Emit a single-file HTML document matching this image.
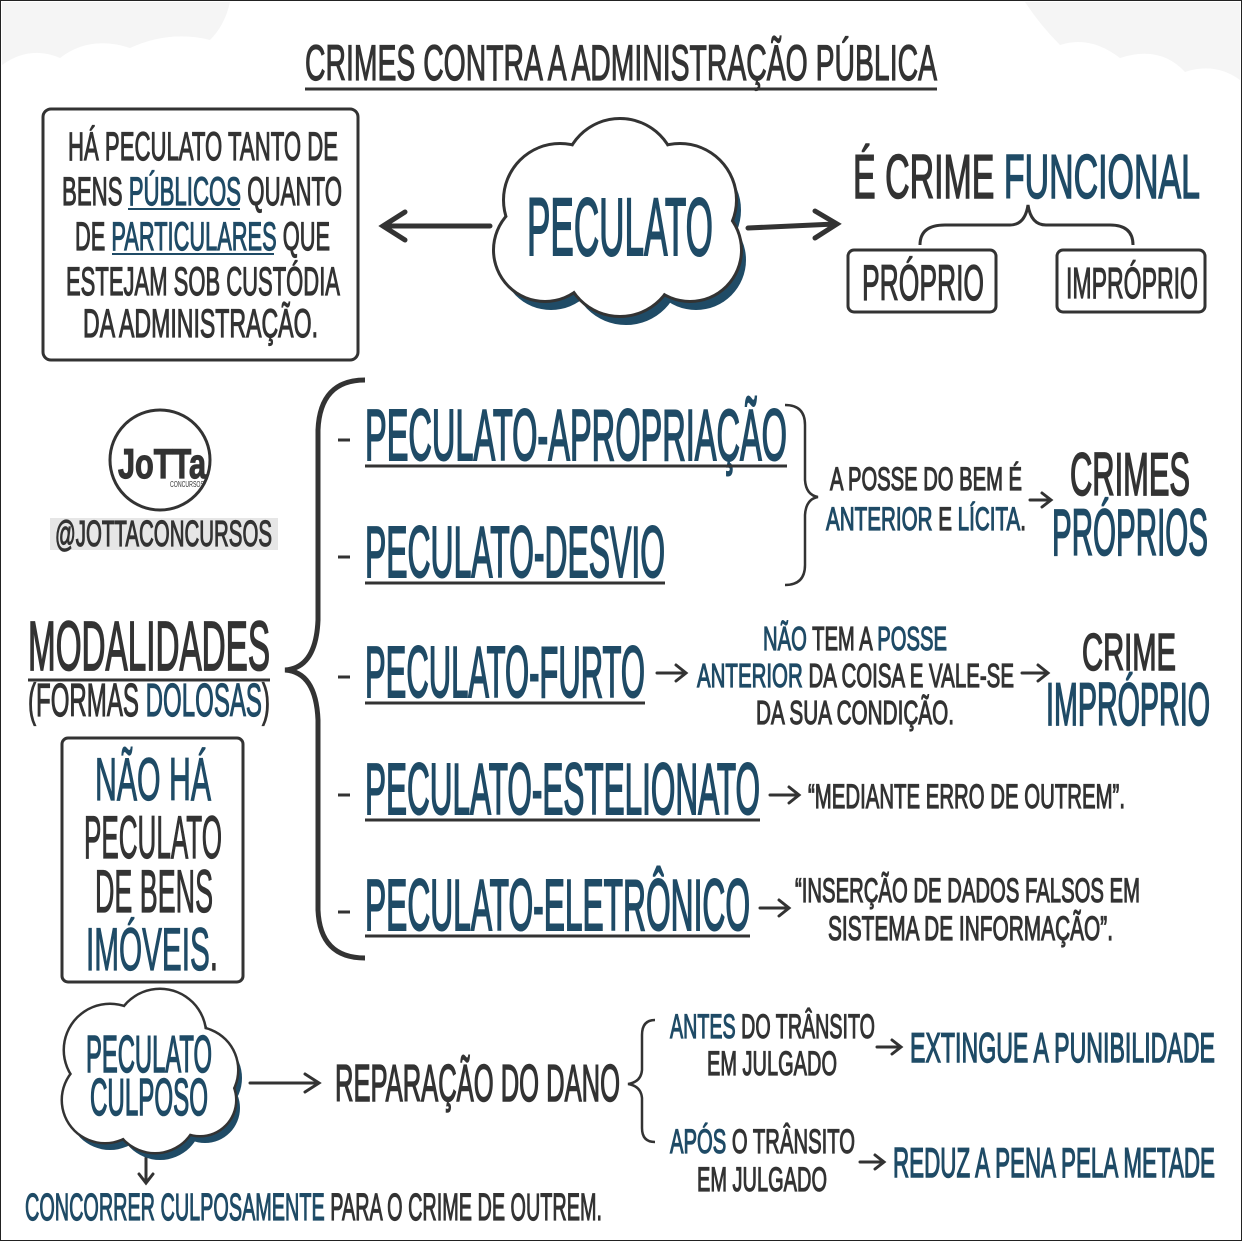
<!DOCTYPE html>
<html><head><meta charset="utf-8"><style>
html,body{margin:0;padding:0;background:#fff;}
svg{display:block;}
text{font-family:"Liberation Sans Narrow","Liberation Sans",sans-serif;fill:#333;stroke:#333;stroke-width:1.2;}
.b{fill:#1f4b66;stroke:#1f4b66;}
</style></head><body>
<svg width="1242" height="1241" viewBox="0 0 1242 1241" xmlns="http://www.w3.org/2000/svg">
<rect x="0.5" y="0.5" width="1241" height="1240" fill="#fff" stroke="#222" stroke-width="1"/>
<!-- faint corner clouds -->
<path d="M2 65 Q30 45 60 58 Q90 35 130 48 Q170 30 210 40 Q225 25 230 2 L2 2Z" fill="#f5f5f5"/>
<path d="M1240 80 Q1215 62 1185 72 Q1160 45 1120 58 Q1090 35 1060 45 Q1040 25 1025 2 L1240 2Z" fill="#f5f5f5"/>

<!-- Title -->
<text x="305" y="80" font-size="50" textLength="632" lengthAdjust="spacingAndGlyphs">CRIMES CONTRA A ADMINISTRAÇÃO PÚBLICA</text>
<line x1="305" y1="89" x2="937" y2="89" stroke="#333" stroke-width="3"/>

<!-- Left box -->
<rect x="43" y="109" width="315" height="251" rx="8" fill="none" stroke="#333" stroke-width="3"/>
<g font-size="40">
<text x="68" y="160" textLength="270" lengthAdjust="spacingAndGlyphs">HÁ PECULATO TANTO DE</text>
<text x="62" y="205" textLength="280" lengthAdjust="spacingAndGlyphs">BENS <tspan class="b">PÚBLICOS</tspan> QUANTO</text>
<text x="75" y="250" textLength="255" lengthAdjust="spacingAndGlyphs">DE <tspan class="b">PARTICULARES</tspan> QUE</text>
<text x="66" y="295" textLength="274" lengthAdjust="spacingAndGlyphs">ESTEJAM SOB CUSTÓDIA</text>
<text x="83" y="337" textLength="235" lengthAdjust="spacingAndGlyphs">DA ADMINISTRAÇÃO.</text>
</g>
<line x1="128" y1="209" x2="240" y2="209" stroke="#1f4b66" stroke-width="2"/>
<line x1="112" y1="254" x2="274" y2="254" stroke="#1f4b66" stroke-width="2"/>

<!-- Main cloud -->
<g transform="translate(6,10)" fill="#1f4b66">
<circle cx="560" cy="200" r="55"/><circle cx="620" cy="175" r="55"/><circle cx="680" cy="200" r="55"/>
<circle cx="545" cy="250" r="50"/><circle cx="620" cy="260" r="55"/><circle cx="690" cy="250" r="50"/>
</g>
<g fill="none" stroke="#333" stroke-width="6">
<circle cx="560" cy="200" r="55"/><circle cx="620" cy="175" r="55"/><circle cx="680" cy="200" r="55"/>
<circle cx="545" cy="250" r="50"/><circle cx="620" cy="260" r="55"/><circle cx="690" cy="250" r="50"/>
</g>
<g fill="#fff">
<circle cx="560" cy="200" r="55"/><circle cx="620" cy="175" r="55"/><circle cx="680" cy="200" r="55"/>
<circle cx="545" cy="250" r="50"/><circle cx="620" cy="260" r="55"/><circle cx="690" cy="250" r="50"/>
<rect x="560" y="190" width="120" height="80"/>
</g>
<text class="b" x="527" y="255" font-size="82" textLength="186" lengthAdjust="spacingAndGlyphs" style="stroke-width:2">PECULATO</text>

<!-- arrows -->
<g stroke="#333" stroke-width="5" fill="none" stroke-linecap="round">
<path d="M490 226 L385 226 M405 212 L383 226 L405 240"/>
<path d="M748 228 L835 224 M815 211 L837 224 L815 238"/>
</g>

<!-- Crime funcional -->
<text x="853" y="198" font-size="62" textLength="347" lengthAdjust="spacingAndGlyphs" style="stroke-width:1.6">É CRIME <tspan class="b">FUNCIONAL</tspan></text>
<path d="M920 245 Q920 225 945 225 L1010 225 Q1025 225 1028 205 Q1031 225 1046 225 L1110 225 Q1133 225 1133 245" fill="none" stroke="#333" stroke-width="3"/>
<rect x="848" y="250" width="148" height="62" rx="6" fill="none" stroke="#333" stroke-width="3"/>
<rect x="1057" y="250" width="148" height="62" rx="6" fill="none" stroke="#333" stroke-width="3"/>
<text x="862" y="300" font-size="50" textLength="122" lengthAdjust="spacingAndGlyphs">PRÓPRIO</text>
<text x="1066" y="298" font-size="44" textLength="132" lengthAdjust="spacingAndGlyphs">IMPRÓPRIO</text>

<!-- Logo -->
<circle cx="160" cy="460" r="50" fill="#fff" stroke="#333" stroke-width="3"/>
<text x="118" y="478" font-size="42" font-weight="bold" textLength="88" lengthAdjust="spacingAndGlyphs">JoTTa</text>
<text x="170" y="487" font-size="8" textLength="34" lengthAdjust="spacingAndGlyphs" style="stroke-width:0">CONCURSOS</text>
<rect x="50" y="518" width="228" height="32" fill="#e6e6e6"/>
<text x="55" y="546" font-size="36" textLength="217" lengthAdjust="spacingAndGlyphs">@JOTTACONCURSOS</text>

<!-- Big brace -->
<path d="M365 380 Q320 380 318 430 L318 620 Q316 668 285 670 Q316 672 318 720 L318 910 Q320 958 365 958" fill="none" stroke="#333" stroke-width="5"/>

<!-- Modalidades -->
<text x="28" y="670" font-size="70" textLength="242" lengthAdjust="spacingAndGlyphs" style="stroke-width:1.8">MODALIDADES</text>
<line x1="28" y1="680" x2="270" y2="680" stroke="#333" stroke-width="3"/>
<text x="28" y="716" font-size="46" textLength="242" lengthAdjust="spacingAndGlyphs">(FORMAS <tspan class="b">DOLOSAS</tspan>)</text>

<rect x="62" y="738" width="181" height="244" rx="6" fill="none" stroke="#333" stroke-width="3"/>
<g font-size="60" style="stroke-width:1.6">
<text class="b" x="95" y="800" textLength="116" lengthAdjust="spacingAndGlyphs">NÃO HÁ</text>
<text x="84" y="858" textLength="138" lengthAdjust="spacingAndGlyphs">PECULATO</text>
<text x="95" y="912" textLength="118" lengthAdjust="spacingAndGlyphs">DE BENS</text>
<text x="86" y="970" textLength="132" lengthAdjust="spacingAndGlyphs"><tspan class="b">IMÓVEIS</tspan>.</text>
</g>

<!-- Items -->
<g font-size="72">
<text class="b" x="365" y="460" textLength="422" lengthAdjust="spacingAndGlyphs" style="stroke-width:2">PECULATO-APROPRIAÇÃO</text>
<text class="b" x="365" y="577" textLength="300" lengthAdjust="spacingAndGlyphs" style="stroke-width:2">PECULATO-DESVIO</text>
<text class="b" x="365" y="697" textLength="280" lengthAdjust="spacingAndGlyphs" style="stroke-width:2">PECULATO-FURTO</text>
<text class="b" x="365" y="814" textLength="395" lengthAdjust="spacingAndGlyphs" style="stroke-width:2">PECULATO-ESTELIONATO</text>
<text class="b" x="365" y="930" textLength="385" lengthAdjust="spacingAndGlyphs" style="stroke-width:2">PECULATO-ELETRÔNICO</text>
</g>
<g stroke="#333" stroke-width="3">
<line x1="365" y1="466" x2="787" y2="466"/>
<line x1="365" y1="583" x2="665" y2="583"/>
<line x1="365" y1="703" x2="645" y2="703"/>
<line x1="365" y1="820" x2="760" y2="820"/>
<line x1="365" y1="936" x2="750" y2="936"/>
<line x1="338" y1="440" x2="350" y2="440"/>
<line x1="338" y1="557" x2="350" y2="557"/>
<line x1="338" y1="677" x2="350" y2="677"/>
<line x1="338" y1="795" x2="350" y2="795"/>
<line x1="338" y1="912" x2="350" y2="912"/>
</g>

<!-- small brace right -->
<path d="M785 405 Q805 405 805 425 L805 480 Q806 495 818 497 Q806 499 805 515 L805 565 Q805 585 785 585" fill="none" stroke="#333" stroke-width="2.5"/>
<g font-size="32">
<text x="830" y="490" textLength="192" lengthAdjust="spacingAndGlyphs">A POSSE DO BEM É</text>
<text x="826" y="530" textLength="200" lengthAdjust="spacingAndGlyphs"><tspan class="b">ANTERIOR</tspan> E <tspan class="b">LÍCITA</tspan>.</text>
</g>
<text x="1070" y="495" font-size="60" textLength="120" lengthAdjust="spacingAndGlyphs" style="stroke-width:1.8">CRIMES</text>
<text class="b" x="1052" y="555" font-size="66" textLength="156" lengthAdjust="spacingAndGlyphs" style="stroke-width:1.8">PRÓPRIOS</text>

<!-- small arrows -->
<g stroke="#333" stroke-width="3" fill="none" stroke-linecap="round">
<path d="M1030 500 L1050 500 M1042 493 L1051 500 L1042 507"/>
<path d="M657 673 L685 673 M676 665 L686 673 L676 681"/>
<path d="M1022 673 L1047 673 M1038 665 L1048 673 L1038 681"/>
<path d="M770 795 L798 795 M789 787 L799 795 L789 803"/>
<path d="M760 908 L788 908 M779 900 L789 908 L779 916"/>
<path d="M250 1083 L318 1083 M305 1074 L319 1083 L305 1092"/>
<path d="M877 1047 L900 1047 M892 1040 L901 1047 L892 1054"/>
<path d="M860 1162 L883 1162 M875 1155 L884 1162 L875 1169"/>
<path d="M146 1158 L146 1182 M139 1174 L146 1183 L153 1174"/>
</g>

<!-- Furto text -->
<g font-size="33">
<text x="763" y="650" textLength="184" lengthAdjust="spacingAndGlyphs"><tspan class="b">NÃO</tspan> TEM A <tspan class="b">POSSE</tspan></text>
<text x="697" y="687" textLength="317" lengthAdjust="spacingAndGlyphs"><tspan class="b">ANTERIOR</tspan> DA COISA E VALE-SE</text>
<text x="756" y="724" textLength="198" lengthAdjust="spacingAndGlyphs">DA SUA CONDIÇÃO.</text>
</g>
<text x="1082" y="670" font-size="52" textLength="94" lengthAdjust="spacingAndGlyphs" style="stroke-width:1.6">CRIME</text>
<text class="b" x="1046" y="725" font-size="60" textLength="164" lengthAdjust="spacingAndGlyphs" style="stroke-width:1.8">IMPRÓPRIO</text>

<text x="808" y="808" font-size="34" textLength="317" lengthAdjust="spacingAndGlyphs">“MEDIANTE ERRO DE OUTREM”.</text>
<text x="795" y="902" font-size="34" textLength="345" lengthAdjust="spacingAndGlyphs">“INSERÇÃO DE DADOS FALSOS EM</text>
<text x="828" y="940" font-size="34" textLength="285" lengthAdjust="spacingAndGlyphs">SISTEMA DE INFORMAÇÃO”.</text>

<!-- Bottom cloud -->
<g transform="translate(5,8)" fill="#1f4b66">
<circle cx="110" cy="1050" r="45"/><circle cx="160" cy="1035" r="45"/><circle cx="195" cy="1070" r="42"/>
<circle cx="105" cy="1100" r="42"/><circle cx="155" cy="1110" r="42"/><circle cx="200" cy="1100" r="35"/>
</g>
<g fill="none" stroke="#333" stroke-width="5">
<circle cx="110" cy="1050" r="45"/><circle cx="160" cy="1035" r="45"/><circle cx="195" cy="1070" r="42"/>
<circle cx="105" cy="1100" r="42"/><circle cx="155" cy="1110" r="42"/><circle cx="200" cy="1100" r="35"/>
</g>
<g fill="#fff">
<circle cx="110" cy="1050" r="45"/><circle cx="160" cy="1035" r="45"/><circle cx="195" cy="1070" r="42"/>
<circle cx="105" cy="1100" r="42"/><circle cx="155" cy="1110" r="42"/><circle cx="200" cy="1100" r="35"/>
<rect x="105" y="1040" width="95" height="70"/>
</g>
<text class="b" x="86" y="1072" font-size="52" textLength="126" lengthAdjust="spacingAndGlyphs" style="stroke-width:1.6">PECULATO</text>
<text class="b" x="90" y="1115" font-size="52" textLength="118" lengthAdjust="spacingAndGlyphs" style="stroke-width:1.6">CULPOSO</text>

<text x="335" y="1101" font-size="52" textLength="285" lengthAdjust="spacingAndGlyphs" style="stroke-width:1.5">REPARAÇÃO DO DANO</text>
<path d="M655 1020 Q642 1020 642 1035 L642 1070 Q641 1082 628 1084 Q641 1086 642 1098 L642 1128 Q642 1142 655 1142" fill="none" stroke="#333" stroke-width="2.5"/>
<g font-size="34">
<text x="670" y="1038" textLength="205" lengthAdjust="spacingAndGlyphs"><tspan class="b">ANTES</tspan> DO TRÂNSITO</text>
<text x="707" y="1075" textLength="130" lengthAdjust="spacingAndGlyphs">EM JULGADO</text>
<text x="670" y="1153" textLength="185" lengthAdjust="spacingAndGlyphs"><tspan class="b">APÓS</tspan> O TRÂNSITO</text>
<text x="697" y="1191" textLength="130" lengthAdjust="spacingAndGlyphs">EM JULGADO</text>
</g>
<text class="b" x="910" y="1062" font-size="42" textLength="305" lengthAdjust="spacingAndGlyphs" style="stroke-width:1.4">EXTINGUE A PUNIBILIDADE</text>
<text class="b" x="893" y="1177" font-size="42" textLength="322" lengthAdjust="spacingAndGlyphs" style="stroke-width:1.4">REDUZ A PENA PELA METADE</text>

<text x="25" y="1220" font-size="38" textLength="577" lengthAdjust="spacingAndGlyphs"><tspan class="b">CONCORRER CULPOSAMENTE</tspan> PARA O CRIME DE OUTREM.</text>
</svg>
</body></html>
